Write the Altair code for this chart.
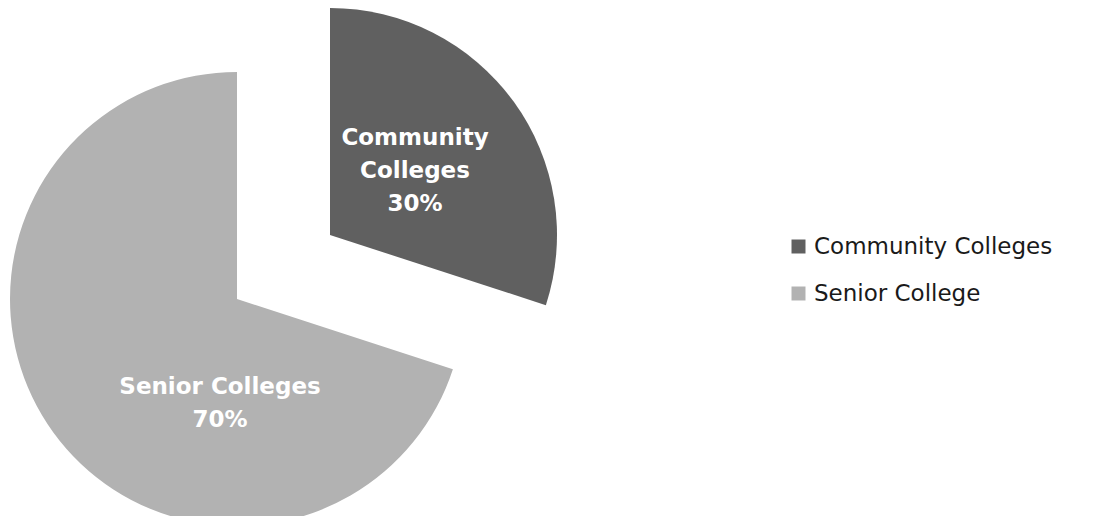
import altair as alt
import pandas as pd

categories = ["Community Colleges", "Senior Colleges"]
legend_labels = ["Community Colleges", "Senior College"]
values = [30, 70]
slice_labels = ["Community\nColleges\n30%", "Senior Colleges\n70%"]
colors = ["#606060", "#b2b2b2"]

df = pd.DataFrame({
    "category": categories,
    "legend": legend_labels,
    "value": values,
    "label": slice_labels,
})
total = sum(values)

FONT = "DejaVu Sans"

base = alt.Chart(df).transform_window(
    cum="sum(value)", frame=[None, 0]
).transform_calculate(
    start="datum.cum - datum.value"
)

theta_scale = alt.Scale(domain=[0, total], range=[0, 6.283185307])
color_enc = alt.Color(
    "legend:N",
    scale=alt.Scale(domain=legend_labels, range=colors),
    legend=alt.Legend(
        title=None,
        orient="none",
        legendX=779,
        legendY=227,
        symbolType="square",
        symbolSize=196,
        symbolStrokeWidth=0,
        labelFont=FONT,
        labelFontSize=23,
        labelColor="#1a1a1a",
        labelLimit=400,
        rowPadding=23,
        labelOffset=4,
    ),
)

# pie centres (exploded slice is offset along its bisector)
centers = {"Community Colleges": (322, 227), "Senior Colleges": (229, 291)}
label_pos = {"Community Colleges": (407, 119), "Senior Colleges": (212, 368)}

layers = []
for cat in categories:
    cx, cy = centers[cat]
    lx, ly = label_pos[cat]
    sub = base.transform_filter(alt.datum.category == cat)
    arc = sub.mark_arc(radius=227, stroke=None).encode(
        theta=alt.Theta("start:Q", scale=theta_scale),
        theta2="cum:Q",
        color=color_enc,
        x=alt.value(cx),
        y=alt.value(cy),
    )
    txt = sub.mark_text(
        font=FONT, fontSize=23, fontWeight=600, color="white",
        lineBreak="\n", lineHeight=33, align="center", baseline="top",
    ).encode(
        text="label:N",
        x=alt.value(lx),
        y=alt.value(ly),
    )
    layers += [arc, txt]

chart = alt.layer(*layers).properties(
    width=1079, height=508,
    autosize=alt.AutoSizeParams(type="none"),
    padding=0,
).configure_view(stroke=None)

chart.save("out.html", embed_options={"renderer": "svg", "actions": False})
